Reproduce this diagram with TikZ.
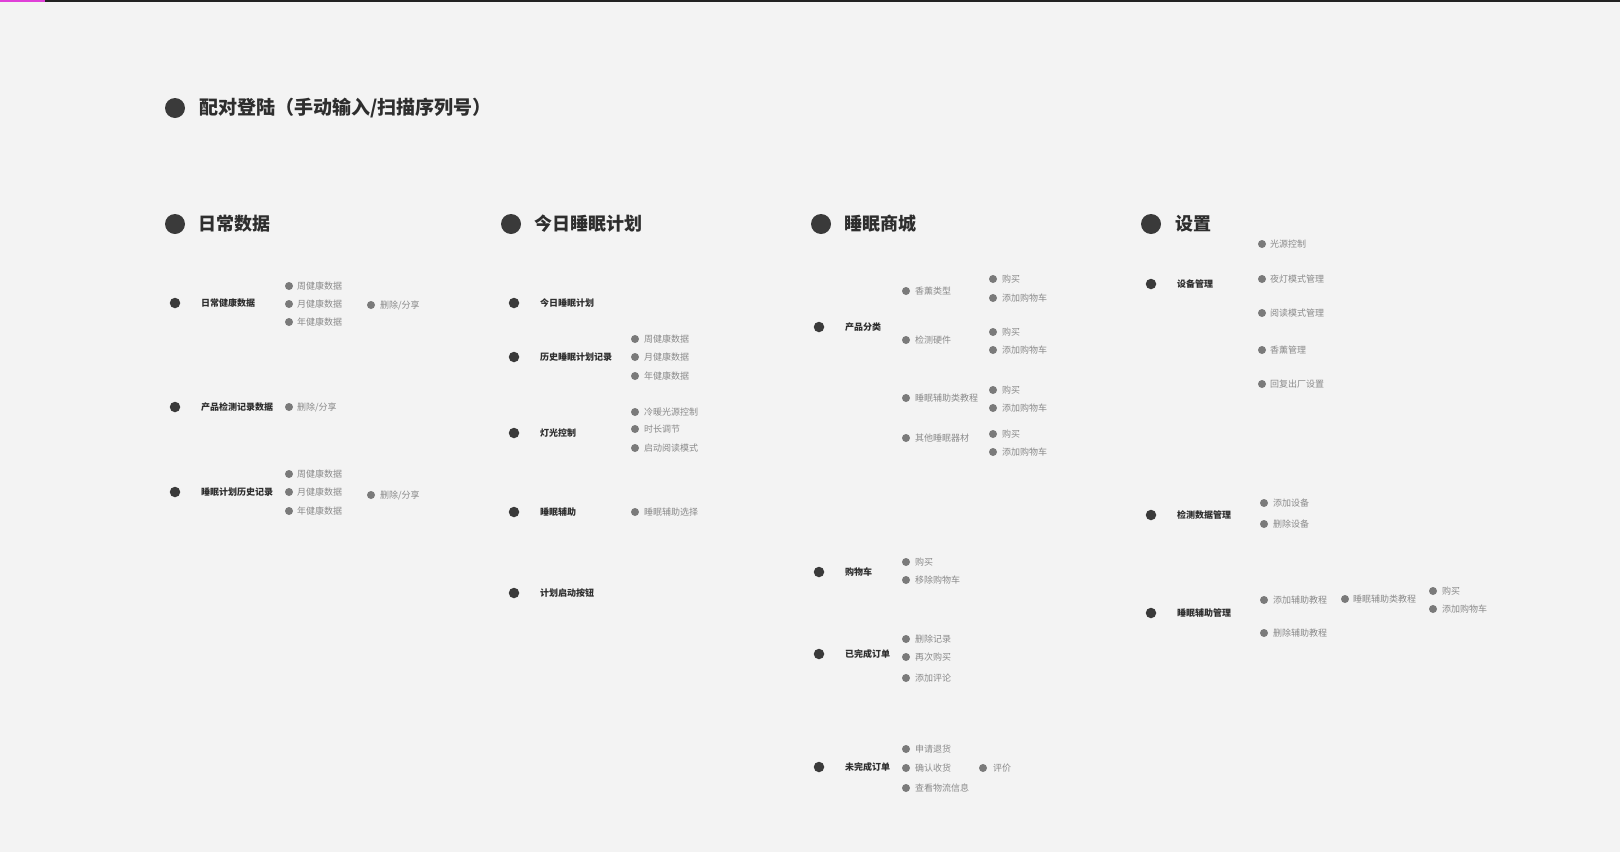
\documentclass[tikz,border=0pt]{standalone}
\usepackage{fontspec}
\setmainfont{Noto Sans CJK SC}
\definecolor{paper}{HTML}{F3F3F3}
\definecolor{dotdark}{HTML}{3A3A3A}
\definecolor{dotgray}{HTML}{7A7A7A}
\definecolor{inkdark}{HTML}{2E2E2E}
\definecolor{inkgray}{HTML}{8A8A8A}
\definecolor{barpink}{HTML}{E040D8}
\definecolor{bardark}{HTML}{222222}
\tikzset{
  dotbig/.style={circle,fill=dotdark,inner sep=0,minimum size=20},
  dotmid/.style={circle,fill=dotdark,inner sep=0,minimum size=10.5},
  dotsmall/.style={circle,fill=dotgray,inner sep=0,minimum size=8},
  headtext/.style={anchor=west,inner sep=0,text=inkdark,font=\fontsize{18}{18}\selectfont\bfseries},
  itemtext/.style={anchor=west,inner sep=0,text=inkdark,font=\fontsize{9}{9}\selectfont\bfseries},
  subtext/.style={anchor=west,inner sep=0,text=inkgray,font=\fontsize{9}{9}\selectfont},
}
\begin{document}
\begin{tikzpicture}[x=1pt,y=-1pt]
  \useasboundingbox (0,0) rectangle (1620,852);
  \fill[paper] (0,0) rectangle (1620,852);
  % top bar
  \fill[bardark] (0,0) rectangle (1620,2);
  \fill[barpink] (0,0) rectangle (45,2);
  % Pairing
  \node[dotbig] (pair-d) at (175,108) {};
  \node[headtext,font=\fontsize{19}{19}\selectfont\bfseries] (pair) at (199,108) {配对登陆（手动输入/扫描序列号）};
  % Section heads
  \node[dotbig] (daily-d) at (175,224) {};
  \node[headtext] (daily) at (198,224) {日常数据};
  \node[dotbig] (plan-d) at (511,224) {};
  \node[headtext] (plan) at (534,224) {今日睡眠计划};
  \node[dotbig] (shop-d) at (821,224) {};
  \node[headtext] (shop) at (844,224) {睡眠商城};
  \node[dotbig] (set-d) at (1151,224) {};
  \node[headtext] (set) at (1175,224) {设置};

  % Column 1
  \foreach \y/\t [count=\i] in {303/日常健康数据,407/产品检测记录数据,492/睡眠计划历史记录}{
    \node[dotmid] (da\i-d) at (175,\y) {};
    \node[itemtext] (da\i) at (201,\y) {\t};
  }
  \foreach \y/\t [count=\i] in {286/周健康数据,304/月健康数据,322/年健康数据,407/{删除/分享},474/周健康数据,492/月健康数据,511/年健康数据}{
    \node[dotsmall] (db\i-d) at (289,\y) {};
    \node[subtext] (db\i) at (297,\y) {\t};
  }
  \foreach \y [count=\i] in {305,495}{
    \node[dotsmall] (dc\i-d) at (371,\y) {};
    \node[subtext] (dc\i) at (380,\y) {删除/分享};
  }

  % Column 2
  \foreach \y/\t [count=\i] in {303/今日睡眠计划,357/历史睡眠计划记录,433/灯光控制,512/睡眠辅助,593/计划启动按钮}{
    \node[dotmid] (pa\i-d) at (514,\y) {};
    \node[itemtext] (pa\i) at (540,\y) {\t};
  }
  \foreach \y/\t [count=\i] in {339/周健康数据,357/月健康数据,376/年健康数据,412/冷暖光源控制,429/时长调节,448/启动阅读模式,512/睡眠辅助选择}{
    \node[dotsmall] (pb\i-d) at (635,\y) {};
    \node[subtext] (pb\i) at (644,\y) {\t};
  }

  % Column 3
  \foreach \y/\t [count=\i] in {327/产品分类,572/购物车,654/已完成订单,767/未完成订单}{
    \node[dotmid] (sa\i-d) at (819,\y) {};
    \node[itemtext] (sa\i) at (845,\y) {\t};
  }
  \foreach \y/\t [count=\i] in {291/香薰类型,340/检测硬件,398/睡眠辅助类教程,438/其他睡眠器材,562/购买,580/移除购物车,639/删除记录,657/再次购买,678/添加评论,749/申请退货,768/确认收货,788/查看物流信息}{
    \node[dotsmall] (sb\i-d) at (906,\y) {};
    \node[subtext] (sb\i) at (915,\y) {\t};
  }
  \foreach \y/\t [count=\i] in {279/购买,298/添加购物车,332/购买,350/添加购物车,390/购买,408/添加购物车,434/购买,452/添加购物车}{
    \node[dotsmall] (sc\i-d) at (993,\y) {};
    \node[subtext] (sc\i) at (1002,\y) {\t};
  }
  \node[dotsmall] (sd-d) at (983,768) {};
  \node[subtext] (sd) at (993,768) {评价};

  % Column 4
  \foreach \y/\t [count=\i] in {284/设备管理,515/检测数据管理,613/睡眠辅助管理}{
    \node[dotmid] (ta\i-d) at (1151,\y) {};
    \node[itemtext] (ta\i) at (1177,\y) {\t};
  }
  \foreach \y/\t [count=\i] in {244/光源控制,279/夜灯模式管理,313/阅读模式管理,350/香薰管理,384/回复出厂设置}{
    \node[dotsmall] (tb\i-d) at (1262,\y) {};
    \node[subtext] (tb\i) at (1270,\y) {\t};
  }
  \foreach \y/\t [count=\i] in {503/添加设备,524/删除设备,600/添加辅助教程,633/删除辅助教程}{
    \node[dotsmall] (tc\i-d) at (1264,\y) {};
    \node[subtext] (tc\i) at (1273,\y) {\t};
  }
  \node[dotsmall] (td-d) at (1345,599) {};
  \node[subtext] (td) at (1353,599) {睡眠辅助类教程};
  \foreach \y/\t [count=\i] in {591/购买,609/添加购物车}{
    \node[dotsmall] (te\i-d) at (1433,\y) {};
    \node[subtext] (te\i) at (1442,\y) {\t};
  }
\end{tikzpicture}
\end{document}
